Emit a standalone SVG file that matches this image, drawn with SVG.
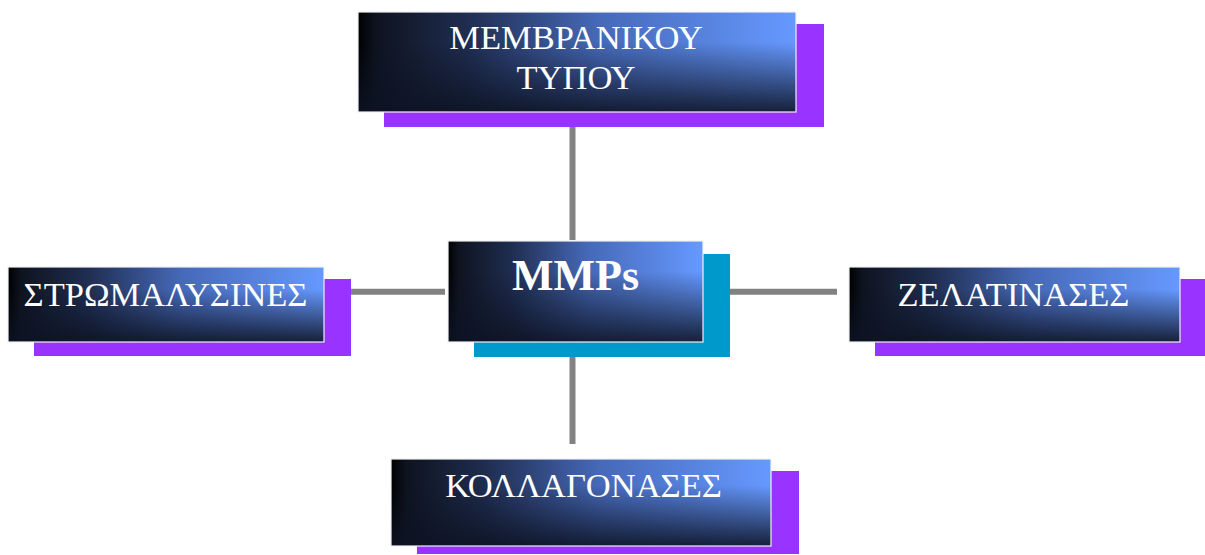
<svg xmlns="http://www.w3.org/2000/svg" width="1205" height="555" viewBox="0 0 1205 555">
<defs>
<linearGradient id="gh" x1="0" y1="0" x2="1" y2="0">
<stop offset="0" stop-color="#000000"/>
<stop offset="0.04" stop-color="#0e131f"/>
<stop offset="0.25" stop-color="#1f2d50"/>
<stop offset="0.55" stop-color="#4669b8"/>
<stop offset="1" stop-color="#6699ff"/>
</linearGradient>
<linearGradient id="gv" x1="0" y1="0" x2="0" y2="1">
<stop offset="0" stop-color="#0d1324" stop-opacity="0"/>
<stop offset="0.3" stop-color="#0d1324" stop-opacity="0"/>
<stop offset="1" stop-color="#0d1324" stop-opacity="0.9"/>
</linearGradient>
<style>
.sh{fill:#9933ff}
.shc{fill:#0099cc}
.bg{fill:url(#gh)}
.ov{fill:url(#gv);stroke:#f0f0f0;stroke-width:1.2}
.t{font-family:"Liberation Serif","Times New Roman",serif;font-size:34.5px;fill:#ffffff;text-anchor:middle}
.tb{font-family:"Liberation Serif","Times New Roman",serif;font-size:44px;font-weight:bold;fill:#ffffff;text-anchor:middle}
.c{stroke:#828282;stroke-width:6;fill:none}
</style>
</defs>
<g id="connectors">
<line class="c" x1="572.5" y1="127" x2="572.5" y2="240"/>
<line class="c" x1="572.5" y1="357" x2="572.5" y2="444"/>
<line class="c" x1="351" y1="291.7" x2="445" y2="291.7"/>
<line class="c" x1="730" y1="291.7" x2="837" y2="291.7"/>
</g>
<g id="node-top">
<rect class="sh" x="384" y="24" width="440" height="103"/>
<rect class="bg" x="358" y="12" width="438" height="100"/>
<rect class="ov" x="358" y="12" width="438" height="100"/>
<text class="t" x="576" y="49">ΜΕΜΒΡΑΝΙΚΟΥ</text>
<text class="t" x="576" y="89">ΤΥΠΟΥ</text>
</g>
<g id="node-center">
<rect class="shc" x="474" y="254" width="256" height="103"/>
<rect class="bg" x="448" y="241" width="255" height="101"/>
<rect class="ov" x="448" y="241" width="255" height="101"/>
<text class="tb" x="575.5" y="290">MMPs</text>
</g>
<g id="node-left">
<rect class="sh" x="34" y="279" width="317" height="77"/>
<rect class="bg" x="8" y="267" width="316" height="75"/>
<rect class="ov" x="8" y="267" width="316" height="75"/>
<text class="t" x="165.5" y="306">ΣΤΡΩΜΑΛΥΣΙΝΕΣ</text>
</g>
<g id="node-right">
<rect class="sh" x="875" y="279" width="330" height="77"/>
<rect class="bg" x="849" y="267" width="331" height="75"/>
<rect class="ov" x="849" y="267" width="331" height="75"/>
<text class="t" x="1013.5" y="306">ΖΕΛΑΤΙΝΑΣΕΣ</text>
</g>
<g id="node-bottom">
<rect class="sh" x="417" y="471" width="382" height="83"/>
<rect class="bg" x="391" y="459" width="380" height="87"/>
<rect class="ov" x="391" y="459" width="380" height="87"/>
<text class="t" x="583.5" y="497">ΚΟΛΛΑΓΟΝΑΣΕΣ</text>
</g>
</svg>
